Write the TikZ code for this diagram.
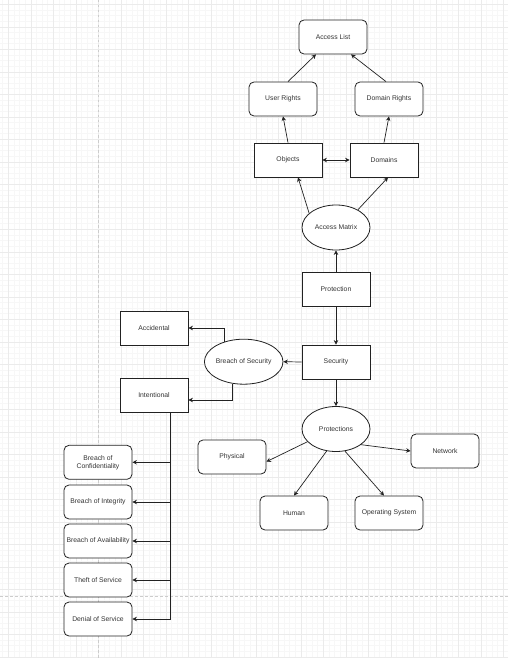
\documentclass[tikz,border=0pt]{standalone}
\usepackage{fontspec}
\setmainfont{Liberation Sans}
\usetikzlibrary{arrows.meta,calc,shapes.geometric}
\definecolor{minorgrid}{HTML}{F7F7F7}
\definecolor{majorgrid}{HTML}{EBEBEB}
\definecolor{pagebrk}{HTML}{CCCCCC}
\definecolor{ink}{HTML}{222222}
\definecolor{txt}{HTML}{333333}
\tikzset{
  base/.style={draw=ink, line width=0.8pt, fill=white, text=txt, inner sep=0pt,
    font=\fontsize{6.8}{8}\selectfont, align=center},
  sqbox/.style={base, rectangle, minimum width=68pt, minimum height=34pt},
  rbox/.style={sqbox, rounded corners=5pt},
  ell/.style={base, ellipse, minimum width=68pt, minimum height=45pt},
  arr/.style={draw=ink, line width=0.7pt, -{Stealth[length=4.5pt,width=4.5pt]}},
  darr/.style={draw=ink, line width=0.7pt, {Stealth[length=4.5pt,width=4.5pt]}-{Stealth[length=4.5pt,width=4.5pt]}},
  ln/.style={draw=ink, line width=0.7pt},
}
\begin{document}
\begin{tikzpicture}[x=1pt,y=-1pt]
\useasboundingbox (0,0) rectangle (508,658);
\fill[white] (0,0) rectangle (508,658);
% grid
\foreach \i in {0,...,90} {\draw[minorgrid,line width=0.4pt] (2.675+\i*5.625,0) -- (2.675+\i*5.625,658);}
\foreach \i in {0,...,117} {\draw[minorgrid,line width=0.4pt] (0,4.3-5.625+\i*5.625) -- (508,4.3-5.625+\i*5.625);}
\foreach \i in {0,...,22} {\draw[majorgrid,line width=0.5pt] (8.3+\i*22.5,0) -- (8.3+\i*22.5,658);}
\foreach \i in {0,...,29} {\draw[majorgrid,line width=0.5pt] (0,4.3+\i*22.5) -- (508,4.3+\i*22.5);}
\draw[pagebrk,line width=0.8pt,dash pattern=on 2.5pt off 2.5pt] (98.3,0) -- (98.3,658);
\draw[pagebrk,line width=0.8pt,dash pattern=on 2.5pt off 2.5pt] (0,596) -- (508,596);

% nodes
\node[rbox] (al) at (333,37) {Access List};
\node[rbox] (ur) at (283,99) {User Rights};
\node[rbox] (dr) at (389,99) {Domain Rights};
\node[sqbox] (obj) at (288,160) {Objects};
\node[sqbox] (dom) at (384,160) {Domains};
\node[ell] (am) at (336,227.5) {Access Matrix};
\node[sqbox] (prot) at (336,289) {Protection};
\node[sqbox] (sec) at (336,362) {Security};
\node[ell] (bos) at (243.7,361.7) {Breach of Security};
\node[sqbox] (acc) at (154,328) {Accidental};
\node[sqbox] (int) at (154,395.5) {Intentional};
\node[ell] (pr) at (336,429) {Protections};
\node[rbox] (phys) at (232,457) {Physical};
\node[rbox] (net) at (445,451) {Network};
\node[rbox] (hum) at (294,513) {Human};
\node[rbox] (os) at (389,513) {Operating System};
\node[rbox] (b1) at (98,462.3) {Breach of\\Confidentiality};
\node[rbox] (b2) at (98,502) {Breach of Integrity};
\node[rbox] (b3) at (98,541) {Breach of Availability};
\node[rbox] (b4) at (98,580) {Theft of Service};
\node[rbox] (b5) at (98,619) {Denial of Service};

% connectors
\draw[arr] ($(ur.north)+(5,0)$) -- ($(al.south)+(-17,0)$);
\draw[arr] ($(dr.north)+(-3,0)$) -- ($(al.south)+(18,0)$);
\draw[arr] (obj.north) -- (ur.south);
\draw[arr] (dom.north) -- (dr.south);
\draw[darr] (obj.east) -- (dom.west);
\draw[arr] (am.152) -- ($(obj.south)+(10,0)$);
\draw[arr] (am.39) -- ($(dom.south)+(4,0)$);
\draw[arr] (prot.north) -- (am.south);
\draw[arr] (prot.south) -- (sec.north);
\draw[arr] (sec.west) -- (bos.east);
\draw[arr] (sec.south) -- (pr.north);
\draw[arr] (bos.134) |- (acc.east);
\draw[arr] (bos.243) |- ($(int.east)+(0,4.5)$);
\coordinate (t0) at ($(int.south)+(16.7,0)$);
\draw[ln] (t0) -- (t0 |- b5.east);
\foreach \b in {b1,b2,b3,b4,b5} {\draw[arr] (t0 |- \b.east) -- (\b.east);}
\draw[arr] (pr.204) -- ($(phys.east)+(0,4.7)$);
\draw[arr] (pr.247) -- (hum.north);
\draw[arr] (pr.292) -- ($(os.north)+(-5,0)$);
\draw[arr] (pr.328) -- (net.west);
\end{tikzpicture}
\end{document}
